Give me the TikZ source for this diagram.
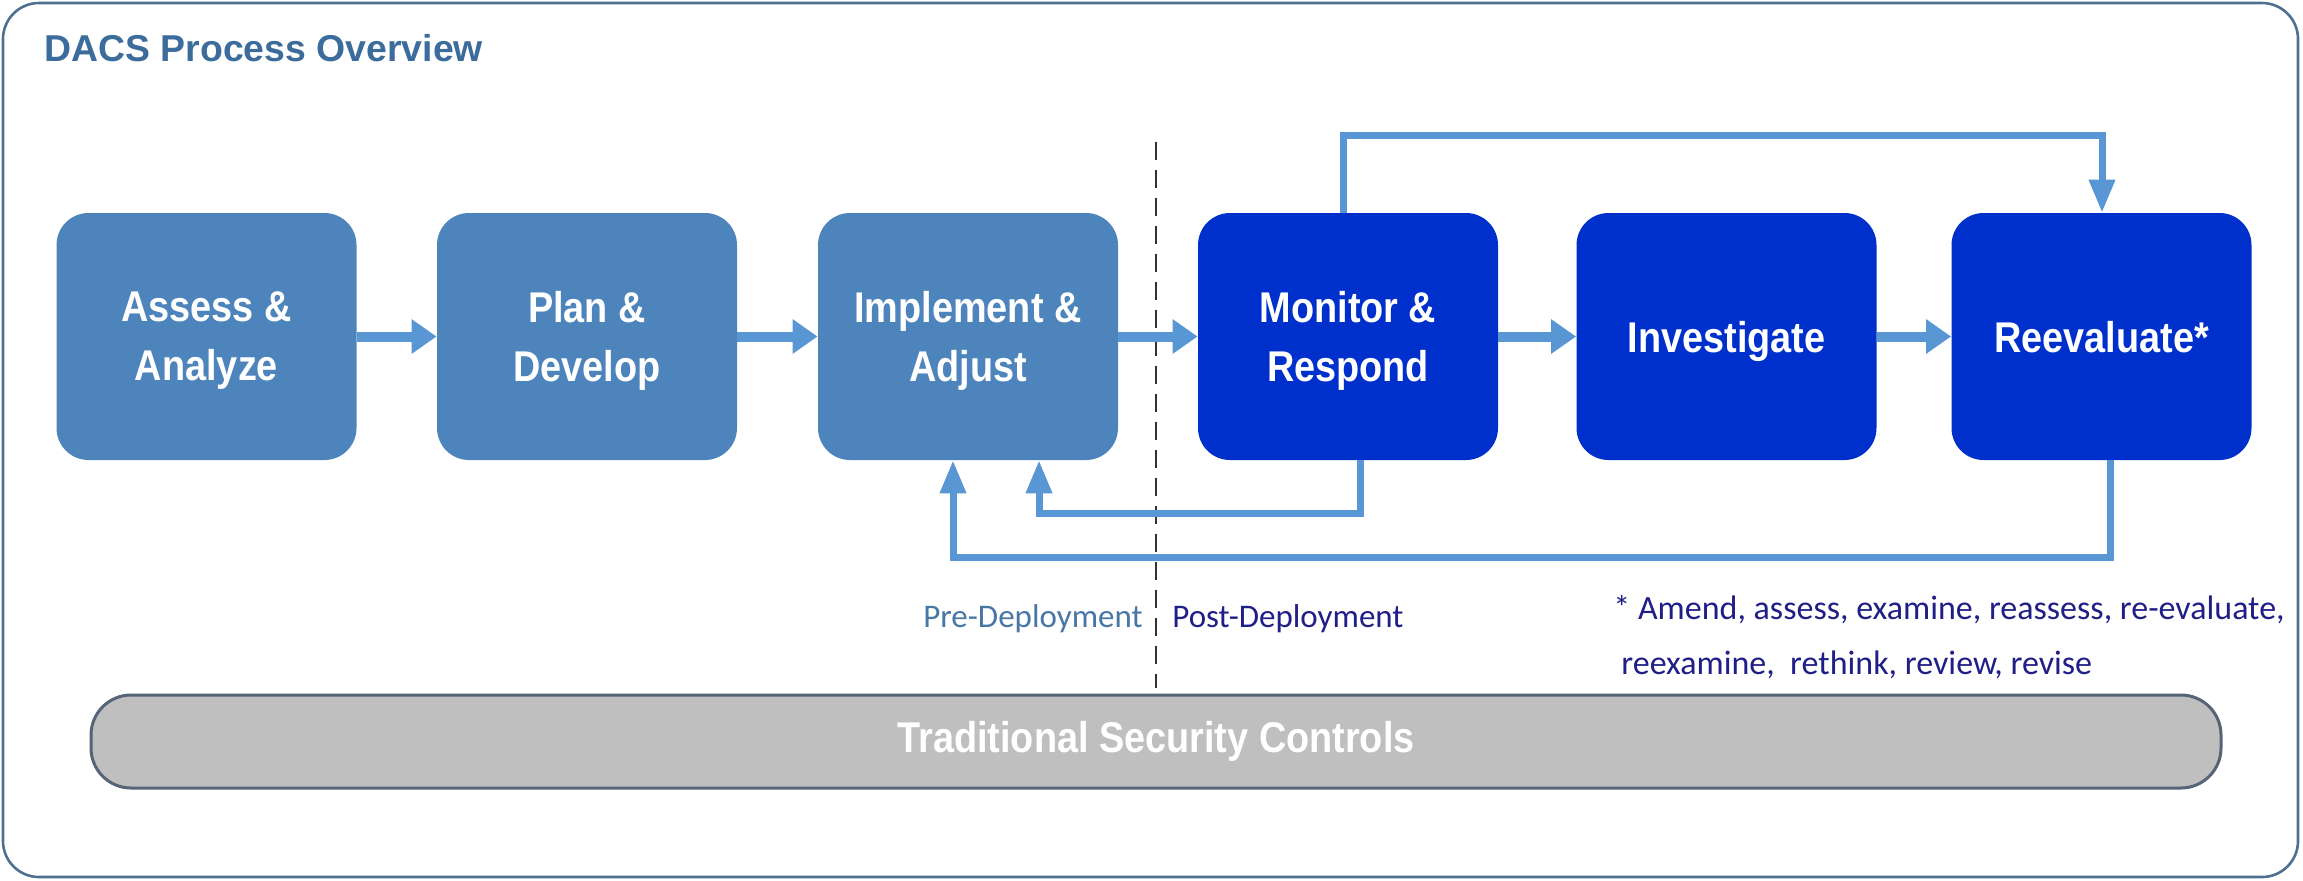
\documentclass[tikz,border=0pt]{standalone}
\usepackage{fontspec}
\setmainfont{Liberation Sans}
\newfontfamily\boxfont{Liberation Sans}[FakeStretch=0.88]
\newfontfamily\calfont{Carlito}
\usetikzlibrary{arrows.meta,calc}
\definecolor{lightbox}{RGB}{78,132,188}
\definecolor{darkbox}{RGB}{0,48,204}
\definecolor{conn}{RGB}{88,150,212}
\definecolor{framec}{RGB}{80,112,145}
\definecolor{titlec}{RGB}{60,108,155}
\definecolor{barfill}{RGB}{191,191,191}
\definecolor{barline}{RGB}{85,100,118}
\definecolor{navyc}{RGB}{32,30,135}
\definecolor{prec}{RGB}{72,118,165}
\begin{document}
\begin{tikzpicture}[x=0.5pt,y=-0.5pt,
  stepbox/.style={rounded corners=16pt, minimum width=150pt, minimum height=123.5pt,
    inner sep=0pt, text=white, align=center, text depth=0pt,
    font=\boxfont\bfseries\fontsize{21.5}{29.5}\selectfont},
  lightstep/.style={stepbox, fill=lightbox},
  darkstep/.style={stepbox, fill=darkbox},
  flow/.style={draw=conn, line width=5pt, -{Triangle[length=12.5pt,width=16.5pt]}},
  loopline/.style={draw=conn, line width=3.5pt, -{Triangle[length=16.5pt,width=12.5pt]}},
  divider/.style={draw={rgb,255:red,50;green,50;blue,50}, line width=1.4pt, dash pattern=on 9pt off 5pt},
  framebox/.style={draw=framec, line width=1.3pt, rounded corners=18pt},
  barbox/.style={draw=barline, fill=barfill, line width=1.5pt, rounded corners=20pt,
    minimum width=1065pt, minimum height=46.5pt, inner sep=0pt, text=white,
    font=\boxfont\bfseries\fontsize{21.5}{25}\selectfont},
  smalltext/.style={inner sep=0pt, font=\calfont\fontsize{16.5}{20}\selectfont},
  notetext/.style={inner sep=0pt, font=\calfont\fontsize{17}{20}\selectfont}
]
\useasboundingbox (0,0) rectangle (2303,880);
% outer frame
\draw[framebox] (3,3) rectangle (2298,877);
% title
\node[anchor=base west, inner sep=0pt, text=titlec,
  font=\bfseries\fontsize{18.7}{22}\selectfont] (title) at (44,61) {DACS Process Overview};

% divider
\coordinate (dtop) at (1156,142);
\coordinate (dbot) at (1156,688);
\draw[divider] (dtop) -- (dbot);

% steps
\node[lightstep] (aa) at (206.5,336.5) {Assess \&\\Analyze};
\node[lightstep] (pd) at (587,336.5) {Plan \&\\Develop};
\node[lightstep] (ia) at (968,336.5) {Implement \&\\Adjust};
\node[darkstep] (mr) at (1348,336.5) {Monitor \&\\Respond};
\node[darkstep] (iv) at (1726.5,336.5) {Investigate};
\node[darkstep] (re) at (2101.5,336.5) {Reevaluate*};

% forward arrows
\draw[flow] (aa.east) -- (pd.west);
\draw[flow] (pd.east) -- (ia.west);
\draw[flow] (ia.east) -- (mr.west);
\draw[flow] (mr.east) -- (iv.west);
\draw[flow] (iv.east) -- (re.west);

% loops
\coordinate (topR) at (2102,135.5);
\draw[loopline] ($(mr.north)+(-4.5,0)$) |- (topR) -- (topR |- re.north);
\coordinate (fbA) at (1039,513);
\draw[loopline] ($(mr.south)+(12,0)$) |- (fbA) -- (fbA |- ia.south);
\coordinate (fbB) at (953,557);
\draw[loopline] ($(re.south)+(8.5,0)$) |- (fbB) -- (fbB |- ia.south);

% phase labels
\node[smalltext, anchor=base east, text=prec] (pre) at (1143,627) {Pre-Deployment};
\node[smalltext, anchor=base west, text=navyc] (post) at (1172,627) {Post-Deployment};

% footnote
\node[notetext, anchor=base west, text=navyc] (fnA) at (1613,619) {* Amend, assess, examine, reassess, re-evaluate,};
\node[notetext, anchor=base west, text=navyc] (fnB) at (1621,674) {reexamine,\ \ rethink, review, revise};

% traditional controls bar
\node[barbox] (tsc) at (1156,741.5) {Traditional Security Controls};
\end{tikzpicture}
\end{document}
